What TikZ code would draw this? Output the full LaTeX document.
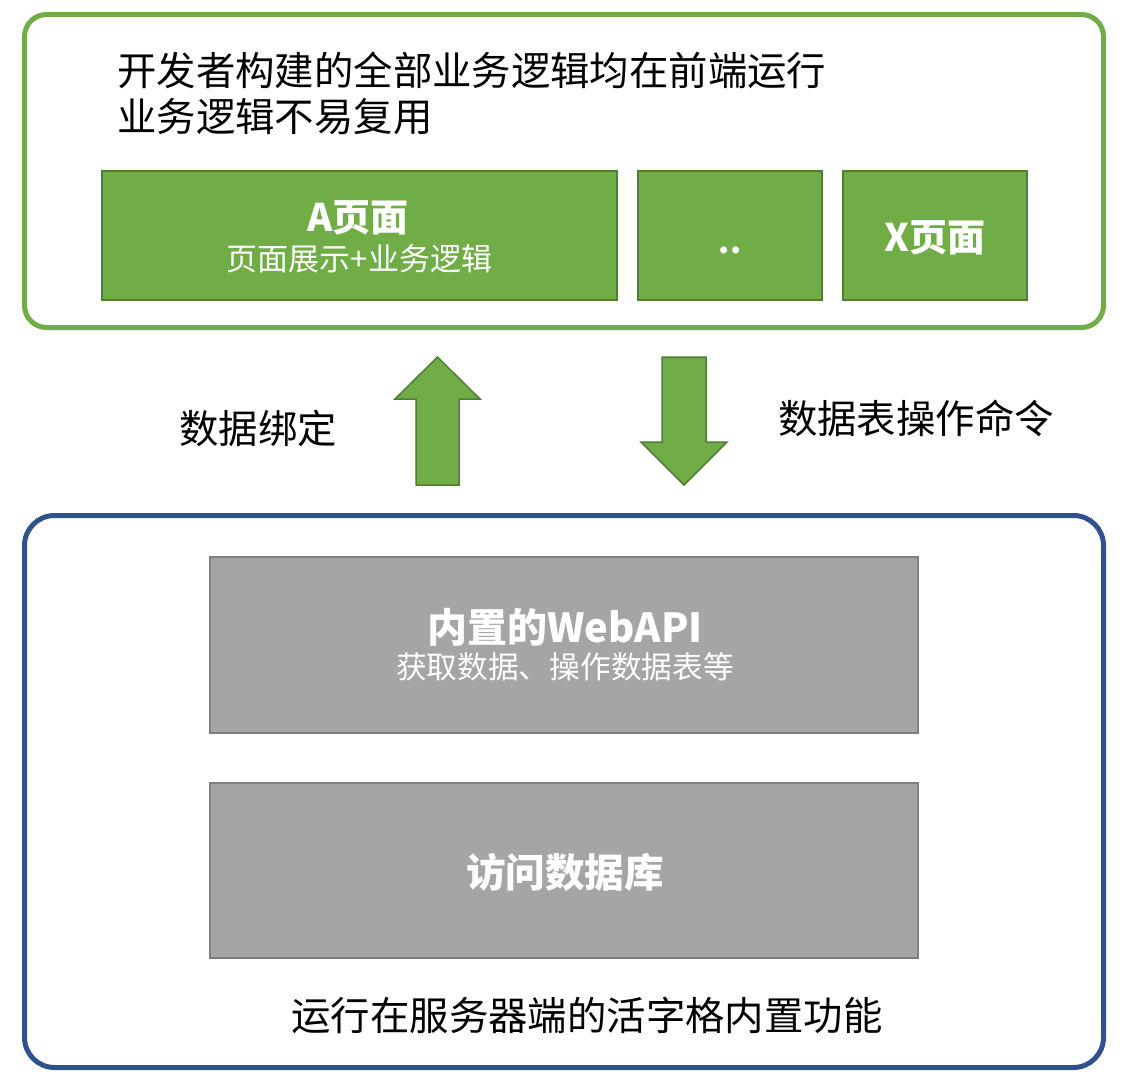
\documentclass[tikz,border=0pt]{standalone}
\usepackage{fontspec}
\setmainfont{Noto Sans CJK SC}
\definecolor{pgreen}{HTML}{70AD47}
\definecolor{dgreen}{HTML}{507E32}
\definecolor{pblue}{HTML}{2F528F}
\definecolor{pgray}{HTML}{A5A5A5}
\definecolor{dgray}{HTML}{7F7F7F}
\begin{document}
\begin{tikzpicture}[x=1pt,y=-1pt,
  frame/.style={rectangle, rounded corners=22pt, line width=5pt, fill=white, inner sep=0pt},
  gbox/.style={rectangle, draw=dgreen, line width=1.8pt, fill=pgreen, inner sep=0pt},
  graybox/.style={rectangle, draw=dgray, line width=1.8pt, fill=pgray, inner sep=0pt, minimum width=708pt},
  blockarrow/.style={draw=dgreen, line width=1.5pt, fill=pgreen, line join=miter},
  bigtext/.style={inner sep=0pt, font=\fontsize{39.4}{47}\selectfont},
  wtitle/.style={inner sep=0pt, text=white, font=\bfseries\fontsize{38}{42}\selectfont},
  wsub/.style={inner sep=0pt, text=white, font=\fontsize{31}{36}\selectfont}]
\useasboundingbox (0,0) rectangle (1128,1084);
% frames
\node[frame, draw=pgreen, minimum width=1079pt, minimum height=313pt] (front) at (564,171) {};
\node[frame, draw=pblue, rounded corners=30pt, minimum width=1079pt, minimum height=552pt] (back) at (564,791.5) {};
% top text
\node[bigtext, anchor=west] (t1) at (117,70) {开发者构建的全部业务逻辑均在前端运行};
\node[bigtext, anchor=west] (t2) at (117,117) {业务逻辑不易复用};
% pages
\node[gbox, minimum width=515pt, minimum height=129pt] (pageA) at (359.5,235.5) {};
\node[wtitle] (pageAtitle) at (358,218) {A页面};
\node[wsub] (pageAsub) at (359.5,259) {页面展示+业务逻辑};
\node[gbox, minimum width=184pt, minimum height=129pt] (dots) at (730,235.5) {};
\node[wtitle, anchor=base, font=\bfseries\fontsize{32}{36}\selectfont] (dotstext) at (730,253) {..};
\node[gbox, minimum width=184pt, minimum height=129pt] (pageX) at (935,235.5) {};
\node[wtitle] (pageXtitle) at (935,238) {X页面};
% arrows
\draw[blockarrow] (437.5,357) -- (480,399) -- (459,399) -- (459,485) -- (416,485) -- (416,399) -- (395,399) -- cycle;
\draw[blockarrow] (662,357) -- (706,357) -- (706,442) -- (727,442) -- (684,485) -- (641,442) -- (662,442) -- cycle;
\node[bigtext] (bind) at (258,428) {数据绑定};
\node[bigtext] (cmd) at (916,418) {数据表操作命令};
% server boxes
\node[graybox, minimum height=176pt] (api) at (564,645) {};
\node[wtitle, font=\bfseries\fontsize{40}{44}\selectfont] (apititle) at (565,627) {内置的WebAPI};
\node[wsub, font=\fontsize{30.7}{36}\selectfont] (apisub) at (565,667) {获取数据、操作数据表等};
\node[graybox, minimum height=175pt] (db) at (564,870.5) {};
\node[wtitle, font=\bfseries\fontsize{39.6}{44}\selectfont] (dbtitle) at (565,872) {访问数据库};
\node[bigtext] (srv) at (587,1015) {运行在服务器端的活字格内置功能};
\end{tikzpicture}
\end{document}
